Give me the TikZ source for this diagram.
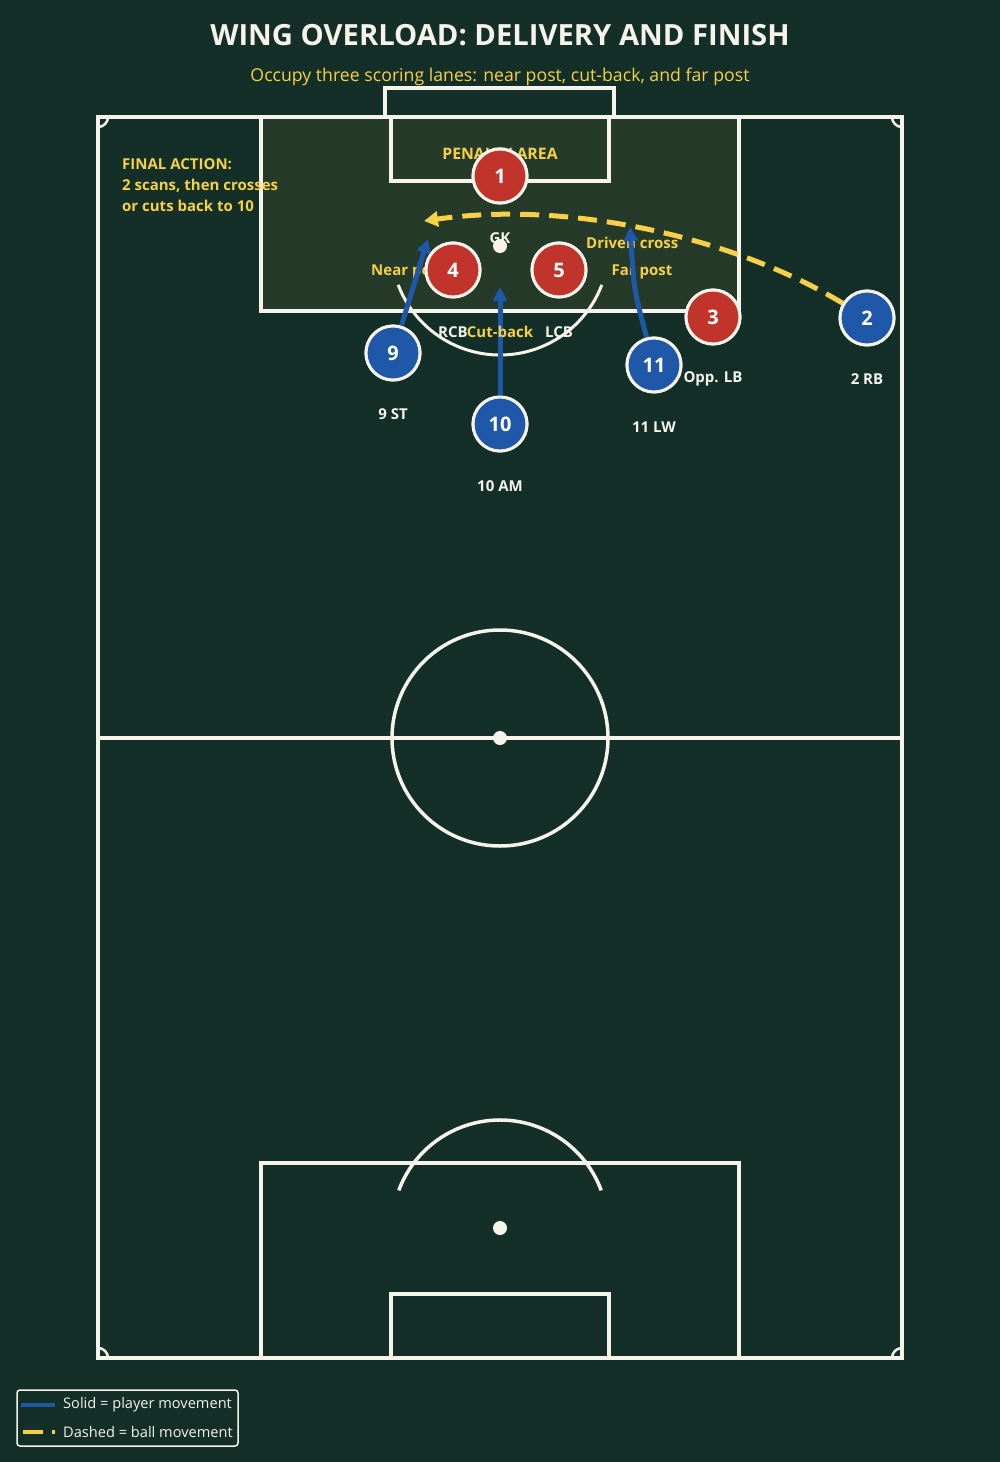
\documentclass[tikz,border=0pt]{standalone}
\usepackage{fontspec}
\setmainfont{Open Sans}
\usetikzlibrary{arrows.meta}
\definecolor{bg}{HTML}{132F27}
\definecolor{boxfill}{HTML}{253A28}
\definecolor{chalk}{HTML}{F5F3EA}
\definecolor{gold}{HTML}{F6D046}
\definecolor{oppred}{HTML}{C0342C}
\definecolor{ownblue}{HTML}{1F58A8}
\tikzset{
  pline/.style={draw=chalk, line width=3.5},
  player/.style={circle, draw=chalk, line width=3, minimum size=54, inner sep=0,
    text=white, font=\fontsize{20}{22}\selectfont\bfseries},
  opp/.style={player, fill=oppred},
  own/.style={player, fill=ownblue},
  plabel/.style={text=chalk, font=\fontsize{15}{17}\selectfont\bfseries, inner sep=0},
  zlabel/.style={text=gold, font=\fontsize{15}{17}\selectfont\bfseries, inner sep=0},
  runarrow/.style={draw=ownblue, line width=5, -{Triangle[length=14,width=14]}},
  ballarrow/.style={draw=gold, line width=5, dash pattern=on 19 off 10, -{Triangle[length=14,width=15]}},
  spot/.style={circle, fill=chalk, minimum size=14, inner sep=0},
}
\begin{document}
\begin{tikzpicture}[x=1pt, y=-1pt]
\fill[bg] (0,0) rectangle (1000,1462);
\useasboundingbox (0,0) rectangle (1000,1462);
% title
\node[text=chalk, font=\fontsize{29.2}{32}\selectfont\bfseries] (title) at (500,35) {WING OVERLOAD: DELIVERY AND FINISH};
\node[text=gold, font=\fontsize{17.7}{20}\selectfont] (subtitle) at (500,77) {Occupy three scoring lanes: near post, cut-back, and far post};
% penalty area highlight
\fill[boxfill] (261,117) rectangle (739,311);
% pitch
\draw[pline] (98,117) rectangle (902,1358);
\draw[pline] (385,117) -- (385,88) -- (614,88) -- (614,117);
\draw[pline] (261,117) rectangle (739,311);
\draw[pline] (391,117) rectangle (609,181);
\draw[pline] (261,1358) rectangle (739,1163);
\draw[pline] (391,1358) rectangle (609,1294);
\draw[pline] (98,738) -- (902,738);
\draw[pline] (500,738) circle[radius=108];
\node[spot] (cspot) at (500,738) {};
\node[spot] (tspot) at (500,246) {};
\node[spot] (bspot) at (500,1228) {};
\draw[draw=chalk, line width=3] (500,246) ++(20.9:109) arc (20.9:159.1:109);
\draw[pline] (500,1228) ++(-20.4:108) arc (-20.4:-159.6:108);
\draw[draw=chalk, line width=2.5] (108,117) arc (0:90:10);
\draw[draw=chalk, line width=2.5] (892,117) arc (180:90:10);
\draw[draw=chalk, line width=2.5] (98,1348) arc (-90:0:10);
\draw[draw=chalk, line width=2.5] (892,1358) arc (180:270:10);
% zone labels
\node[zlabel, font=\fontsize{15.8}{17}\selectfont\bfseries] (pa) at (500,154) {PENALTY AREA};
\node[zlabel, anchor=west] (near) at (371,272) {Near post};
\node[zlabel] (far) at (642,272) {Far post};
\node[zlabel, anchor=west] (driven) at (586,243) {Driven cross};
\node[zlabel, anchor=north west, align=left, font=\fontsize{15}{21}\selectfont\bfseries] (final) at (122,158) {FINAL ACTION:\\2 scans, then crosses\\or cuts back to 10};
% player positions
\coordinate (c1) at (500,176);
\coordinate (c4) at (453,270);
\coordinate (c5) at (559,270);
\coordinate (c3) at (713,317);
\coordinate (c9) at (393,353);
\coordinate (c10) at (500,424);
\coordinate (c11) at (654,365);
\coordinate (c2) at (867,318);
% arrow targets
\coordinate (n9) at (428,239);
\coordinate (n10) at (500,287);
\coordinate (n11) at (630,227);
\coordinate (nb) at (424,221);
% player labels
\node[plabel] (l1) at (500,238) {GK};
\node[plabel] (l4) at (453,332) {RCB};
\node[plabel] (l5) at (559,332) {LCB};
\node[plabel] (l3) at (713,379) {Opp. LB};
\node[plabel] (l2) at (867,379) {2 RB};
\node[plabel] (l9) at (393,414) {9 ST};
\node[plabel] (l10) at (500,486) {10 AM};
\node[plabel] (l11) at (654,427) {11 LW};
% players (nodes for borders)
\node[opp] (p1) at (c1) {1};
\node[opp] (p4) at (c4) {4};
\node[opp] (p5) at (c5) {5};
\node[opp] (p3) at (c3) {3};
\node[own] (p9) at (c9) {9};
\node[own] (p10) at (c10) {10};
\node[own] (p11) at (c11) {11};
\node[own] (p2) at (c2) {2};
% movements
\draw[runarrow] (p9) -- (n9);
\draw[runarrow] (p10) -- (n10);
\draw[runarrow] (p11) .. controls (634,290) .. (n11);
\draw[ballarrow] (p2) .. controls (735,238) and (570,200) .. (nb);
% redraw players on top
\node[opp] at (c1) {1};
\node[opp] at (c4) {4};
\node[opp] at (c5) {5};
\node[opp] at (c3) {3};
\node[own] at (c9) {9};
\node[own] at (c10) {10};
\node[own] at (c11) {11};
\node[own] at (c2) {2};
\node[zlabel] (cut) at (500,332) {Cut-back};
% legend
\node[draw=chalk, line width=1.5, rounded corners=3, fill=bg, minimum width=221, minimum height=56, inner sep=0] (legend) at (127.5,1418) {};
\coordinate (ls1) at (21,1405);
\coordinate (ls2) at (55,1405);
\coordinate (ld1) at (23,1432);
\coordinate (ld2) at (55,1432);
\draw[draw=ownblue, line width=4] (ls1) -- (ls2);
\draw[draw=gold, line width=4, dash pattern=on 20 off 9] (ld1) -- (ld2);
\node[text=chalk, font=\fontsize{14.6}{16}\selectfont, anchor=west, inner sep=0] (lt1) at (63,1405) {Solid = player movement};
\node[text=chalk, font=\fontsize{14.6}{16}\selectfont, anchor=west, inner sep=0] (lt2) at (63,1432) {Dashed = ball movement};
\end{tikzpicture}
\end{document}
